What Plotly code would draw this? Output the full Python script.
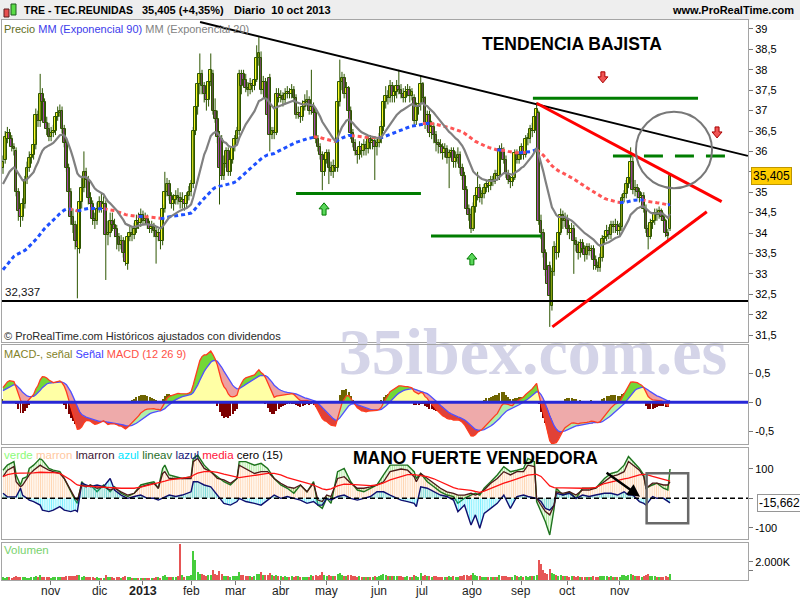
import numpy as np
import plotly.graph_objects as go

# ---------------- DATA ----------------
opens = [
35.6, 35.8, 36.3, 36.45, 36.3, 36.1, 36.0, 35.0, 34.6, 34.4,
34.7, 35.3, 35.6, 35.85, 35.9, 36.15, 36.9, 36.75, 37.4, 37.2,
36.7, 36.55, 36.35, 36.45, 36.5, 36.85, 36.95, 37.0, 36.55, 36.2,
35.6, 35.0, 34.4, 34.2, 33.8, 33.6, 34.75, 35.1, 35.5, 35.3,
34.85, 34.7, 34.35, 34.3, 34.6, 34.75, 34.6, 34.7, 33.95, 34.0,
34.3, 34.2, 34.1, 33.9, 33.7, 33.8, 33.5, 33.25, 33.9, 34.0,
33.95, 34.1, 34.3, 34.25, 34.45, 34.3, 34.35, 34.2, 34.1, 34.15,
34.05, 33.9, 34.0, 33.8, 34.6, 35.0, 35.2, 34.9, 34.7, 34.8,
34.9, 34.85, 34.75, 34.8, 34.7, 34.9, 35.0, 35.2, 36.5, 37.1,
37.65, 37.9, 37.6, 37.4, 37.25, 37.7, 37.9, 37.0, 36.8, 36.35,
36.3, 35.4, 35.7, 36.0, 35.5, 35.8, 36.1, 36.3, 36.5, 37.9,
37.9, 37.75, 37.55, 37.5, 37.65, 37.6, 37.75, 38.3, 38.3, 37.5,
37.7, 37.3, 37.8, 36.4, 36.5, 36.45, 37.4, 37.3, 37.35, 37.25,
37.4, 37.45, 37.4, 37.5, 37.3, 36.9, 36.95, 36.85, 37.1, 37.2,
37.25, 37.0, 37.1, 36.95, 36.3, 36.1, 35.9, 35.5, 35.8, 35.95,
35.6, 35.5, 35.65, 35.6, 37.2, 37.7, 37.8, 37.4, 37.55, 37.0,
36.45, 36.2, 36.0, 35.9, 36.1, 36.0, 36.15, 36.05, 36.3, 36.2,
36.25, 36.1, 36.2, 36.3, 36.6, 37.2, 37.35, 37.3, 37.6, 37.35,
37.45, 37.6, 37.5, 37.4, 37.3, 37.45, 37.5, 37.35, 37.3, 36.75,
37.1, 37.15, 37.65, 37.3, 36.65, 36.9, 36.45, 36.6, 36.4, 36.2,
36.15, 36.1, 35.95, 36.05, 35.85, 35.95, 36.0, 35.75, 35.85, 35.9,
35.6, 35.4, 35.05, 34.6, 34.45, 34.1, 34.65, 34.9, 35.1, 34.85,
34.95, 35.1, 35.2, 35.15, 35.3, 35.25, 35.45, 35.4, 36.05, 36.0,
35.8, 35.45, 35.3, 35.25, 35.35, 35.95, 35.8, 35.9, 36.1, 35.9,
36.3, 36.3, 36.55, 36.5, 36.85, 36.95, 34.3, 34.0, 33.5, 33.1,
33.2, 32.2, 33.05, 33.65, 33.5, 34.0, 34.45, 34.3, 34.35, 34.1,
34.0, 34.1, 33.8, 33.7, 33.5, 33.75, 33.6, 33.45, 33.65, 33.55,
33.6, 33.35, 33.2, 33.15, 33.4, 33.85, 33.9, 34.05, 33.95, 34.2,
34.15, 34.2, 34.05, 34.15, 34.85, 34.95, 35.2, 35.35, 35.75, 35.05,
35.1, 35.0, 34.85, 34.9, 34.6, 34.1, 33.9, 34.25, 34.3, 34.5,
34.45, 34.55, 34.4, 34.3, 34.0, 34.1]

highs = [
35.9, 36.5, 36.6, 36.55, 36.4, 36.2, 36.1, 35.1, 34.7, 34.85,
35.4, 35.75, 36.0, 36.0, 36.3, 37.05, 37.0, 37.9, 37.55, 37.3,
36.85, 36.7, 36.6, 36.65, 36.95, 37.1, 37.15, 37.1, 36.65, 36.3,
35.7, 35.1, 34.6, 34.3, 33.9, 34.85, 35.4, 36.0, 35.6, 35.4,
35.0, 34.8, 34.5, 34.75, 34.9, 35.0, 34.9, 34.8, 34.3, 34.5,
34.5, 34.35, 34.2, 34.0, 33.95, 33.9, 33.6, 34.0, 34.2, 34.15,
34.25, 34.45, 34.5, 34.6, 34.55, 34.5, 34.45, 34.3, 34.3, 34.25,
34.15, 34.1, 34.1, 34.7, 35.5, 35.35, 35.3, 35.0, 34.95, 35.05,
35.1, 35.0, 35.0, 34.9, 35.0, 35.15, 35.3, 36.6, 37.3, 37.9,
38.4, 38.0, 37.7, 37.6, 37.9, 38.4, 38.0, 37.3, 37.0, 36.5,
36.4, 35.9, 36.1, 36.1, 35.9, 36.2, 36.4, 36.6, 38.0, 38.0,
38.0, 37.9, 37.7, 37.8, 37.75, 37.9, 38.6, 38.8, 38.45, 37.85,
37.8, 37.4, 37.9, 36.6, 36.6, 37.55, 37.55, 37.5, 37.45, 37.55,
37.6, 37.55, 37.65, 37.6, 37.4, 37.1, 37.1, 37.25, 37.4, 37.5,
37.35, 38.0, 37.2, 37.05, 36.4, 36.2, 36.0, 35.9, 36.05, 36.05,
35.75, 35.8, 35.8, 37.3, 38.25, 37.95, 37.9, 37.7, 37.6, 37.1,
36.55, 36.3, 36.1, 36.25, 36.2, 36.3, 36.25, 36.4, 36.4, 36.35,
36.35, 36.3, 36.45, 36.75, 37.35, 37.6, 37.5, 37.75, 37.7, 37.6,
37.75, 38.0, 37.65, 37.55, 37.6, 37.65, 37.6, 37.55, 37.4, 37.2,
37.3, 37.85, 37.7, 37.35, 37.0, 37.0, 36.75, 36.7, 36.5, 36.3,
36.3, 36.2, 36.2, 36.15, 36.05, 36.1, 36.1, 36.0, 36.1, 36.0,
35.7, 35.5, 35.15, 34.7, 34.6, 34.75, 35.0, 35.5, 35.2, 35.05,
35.2, 35.3, 35.3, 35.4, 35.4, 35.55, 35.55, 36.15, 36.2, 36.1,
35.9, 35.55, 35.4, 35.45, 36.05, 36.05, 36.0, 36.2, 36.2, 36.4,
36.45, 36.65, 36.7, 36.95, 37.2, 37.0, 34.45, 34.1, 33.6, 33.2,
33.3, 33.15, 33.8, 33.75, 34.1, 34.6, 34.55, 34.5, 34.45, 34.2,
34.25, 34.2, 33.9, 33.8, 33.85, 33.85, 33.7, 33.75, 33.75, 33.7,
33.7, 33.45, 33.3, 33.5, 33.95, 34.05, 34.2, 34.15, 34.3, 34.3,
34.35, 34.3, 34.25, 34.95, 35.05, 35.3, 35.5, 36.1, 35.95, 35.3,
35.2, 35.1, 35.0, 35.0, 34.7, 34.2, 34.35, 34.4, 34.6, 34.6,
34.65, 34.6, 34.5, 34.35, 34.1, 35.45]

lows = [
35.45, 35.7, 36.2, 36.2, 36.0, 35.9, 34.9, 34.3, 34.15, 34.3,
34.6, 35.2, 35.5, 35.7, 35.8, 36.05, 36.6, 36.6, 37.0, 36.6,
36.4, 36.25, 36.25, 36.35, 36.4, 36.75, 36.85, 36.45, 36.1, 35.5,
34.9, 34.2, 34.0, 33.6, 32.4, 33.5, 34.6, 35.0, 35.1, 34.7,
34.55, 34.2, 34.1, 34.2, 34.5, 34.5, 34.45, 32.85, 33.7, 33.9,
34.05, 33.9, 33.6, 33.55, 33.6, 33.4, 33.2, 33.1, 33.8, 33.8,
33.85, 34.0, 34.1, 34.15, 34.2, 34.2, 34.1, 34.0, 34.0, 33.9,
33.25, 33.8, 33.6, 33.7, 34.5, 34.9, 34.8, 34.6, 34.55, 34.7,
34.7, 34.6, 34.6, 34.55, 34.6, 34.8, 34.9, 35.1, 36.4, 36.9,
37.4, 37.4, 37.2, 37.0, 37.1, 37.6, 36.9, 36.7, 36.2, 34.7,
35.3, 35.3, 35.6, 35.4, 35.4, 35.7, 36.0, 36.2, 36.4, 37.4,
37.6, 37.45, 37.35, 37.4, 37.45, 37.5, 37.7, 38.1, 37.4, 37.4,
37.2, 36.8, 36.0, 36.3, 36.3, 36.4, 37.2, 37.2, 37.1, 37.15,
37.3, 37.3, 37.3, 37.2, 36.8, 36.8, 36.7, 36.75, 37.0, 37.1,
36.9, 36.9, 36.8, 36.2, 36.0, 35.8, 35.05, 35.4, 35.7, 35.2,
35.4, 35.35, 35.5, 35.5, 37.1, 37.5, 37.3, 37.3, 36.9, 36.3,
36.1, 35.9, 35.7, 35.8, 35.85, 35.9, 35.9, 35.95, 36.05, 36.05,
35.3, 35.9, 36.1, 36.2, 36.5, 37.05, 37.15, 37.2, 37.2, 37.2,
37.3, 37.4, 37.3, 37.2, 37.2, 37.35, 37.2, 37.25, 36.65, 36.65,
36.9, 37.0, 37.2, 36.55, 36.5, 36.35, 36.3, 36.2, 36.0, 35.95,
35.95, 35.8, 35.85, 35.7, 35.1, 35.8, 35.6, 35.6, 35.7, 35.45,
35.3, 34.95, 34.5, 34.3, 34.0, 34.05, 34.5, 34.8, 34.75, 34.7,
34.85, 35.0, 35.0, 35.05, 35.15, 35.2, 35.3, 35.3, 35.9, 35.7,
35.35, 35.2, 35.1, 35.15, 35.3, 35.7, 35.7, 35.8, 35.8, 35.85,
36.15, 36.2, 36.35, 36.45, 36.8, 34.2, 33.85, 33.4, 32.95, 32.6,
31.7, 32.1, 32.95, 33.35, 33.4, 33.95, 34.1, 34.15, 33.95, 33.85,
33.9, 33.0, 33.55, 33.35, 33.4, 33.5, 33.3, 33.35, 33.45, 33.4,
33.1, 33.1, 33.05, 33.05, 33.3, 33.75, 33.8, 33.85, 33.85, 34.0,
34.0, 33.95, 33.95, 34.05, 34.75, 34.85, 35.1, 35.25, 34.95, 34.9,
34.85, 34.75, 34.7, 34.5, 34.0, 33.6, 33.85, 34.1, 34.2, 34.3,
34.35, 34.3, 34.15, 33.9, 33.8, 34.05]

closes = [
35.75, 36.35, 36.45, 36.3, 36.1, 36.05, 35.0, 34.55, 34.4, 34.7,
35.3, 35.6, 35.85, 35.9, 36.15, 36.9, 36.75, 37.4, 37.2, 36.7,
36.55, 36.35, 36.45, 36.5, 36.85, 36.95, 37.0, 36.55, 36.2, 35.6,
35.0, 34.4, 34.2, 33.8, 33.65, 34.75, 35.1, 35.5, 35.3, 34.85,
34.7, 34.35, 34.3, 34.6, 34.75, 34.6, 34.7, 33.95, 34.0, 34.3,
34.2, 34.1, 33.9, 33.7, 33.8, 33.5, 33.3, 33.9, 34.0, 33.95,
34.1, 34.3, 34.25, 34.45, 34.3, 34.35, 34.2, 34.1, 34.15, 34.05,
33.9, 34.0, 33.8, 34.6, 35.0, 35.2, 34.9, 34.7, 34.8, 34.9,
34.85, 34.75, 34.8, 34.7, 34.9, 35.0, 35.2, 36.5, 37.1, 37.65,
37.9, 37.6, 37.4, 37.25, 37.7, 38.0, 37.0, 36.8, 36.35, 35.6,
35.4, 35.7, 36.0, 35.5, 35.8, 36.1, 36.3, 36.5, 37.9, 37.6,
37.75, 37.55, 37.5, 37.65, 37.6, 37.75, 38.3, 38.4, 37.5, 37.7,
37.3, 36.9, 36.4, 36.5, 36.45, 37.4, 37.3, 37.35, 37.25, 37.4,
37.45, 37.4, 37.5, 37.3, 36.9, 36.95, 36.85, 37.1, 37.2, 37.25,
37.0, 37.1, 36.95, 36.3, 36.1, 35.9, 35.5, 35.8, 35.95, 35.6,
35.5, 35.65, 35.6, 37.2, 37.7, 37.8, 37.4, 37.55, 37.0, 36.45,
36.2, 36.0, 35.9, 36.1, 36.0, 36.15, 36.05, 36.3, 36.2, 36.25,
36.1, 36.2, 36.3, 36.6, 37.2, 37.35, 37.3, 37.6, 37.35, 37.45,
37.6, 37.5, 37.4, 37.3, 37.45, 37.5, 37.35, 37.45, 36.75, 37.1,
37.15, 37.65, 37.3, 36.65, 36.9, 36.45, 36.6, 36.4, 36.2, 36.15,
36.1, 35.95, 36.05, 35.85, 35.95, 36.0, 35.75, 35.85, 35.9, 35.6,
35.4, 35.05, 34.6, 34.45, 34.1, 34.65, 34.9, 35.1, 34.85, 34.95,
35.1, 35.2, 35.15, 35.3, 35.25, 35.45, 35.4, 36.05, 36.0, 35.8,
35.45, 35.3, 35.25, 35.35, 35.95, 35.8, 35.9, 36.1, 35.9, 36.3,
36.3, 36.55, 36.5, 36.85, 37.05, 34.3, 34.0, 33.5, 33.1, 32.75,
32.45, 33.05, 33.65, 33.5, 34.0, 34.45, 34.3, 34.35, 34.1, 34.0,
34.1, 33.8, 33.7, 33.5, 33.75, 33.6, 33.45, 33.65, 33.55, 33.6,
33.35, 33.2, 33.15, 33.4, 33.85, 33.9, 34.05, 33.95, 34.2, 34.15,
34.2, 34.05, 34.15, 34.85, 34.95, 35.2, 35.35, 35.75, 35.05, 35.1,
35.0, 34.85, 34.9, 34.6, 34.1, 33.9, 34.25, 34.3, 34.5, 34.45,
34.55, 34.4, 34.3, 34.0, 33.93, 35.405]

volumes_k = [
300, 260, 280, 350, 240, 300, 420, 380, 330, 290,
310, 270, 250, 300, 330, 480, 380, 520, 350, 330,
300, 280, 260, 290, 340, 310, 280, 330, 360, 420,
450, 480, 390, 420, 600, 520, 380, 410, 330, 310,
280, 300, 260, 290, 270, 250, 240, 520, 330, 300,
280, 260, 300, 330, 270, 350, 420, 380, 300, 260,
250, 240, 230, 260, 240, 220, 250, 230, 210, 240,
300, 280, 260, 480, 520, 380, 350, 300, 290, 310,
420, 3900, 600, 380, 450, 400, 520, 3150, 2200, 900,
700, 650, 520, 480, 600, 550, 1100, 700, 600, 1000,
650, 480, 420, 450, 380, 400, 420, 450, 880, 600,
500, 480, 420, 400, 380, 420, 700, 650, 900, 500,
550, 600, 800, 500, 420, 600, 450, 400, 380, 420,
380, 350, 400, 380, 450, 420, 380, 360, 340, 380,
360, 500, 400, 550, 480, 600, 900, 500, 450, 520,
480, 420, 400, 700, 800, 550, 480, 450, 500, 520,
450, 400, 380, 420, 360, 340, 350, 380, 360, 340,
450, 380, 420, 500, 700, 520, 450, 480, 420, 400,
450, 420, 400, 380, 360, 400, 350, 380, 550, 420,
380, 750, 450, 520, 400, 450, 380, 400, 420, 380,
360, 380, 350, 380, 400, 350, 420, 380, 360, 420,
480, 520, 550, 480, 600, 800, 500, 450, 420, 380,
360, 340, 350, 330, 320, 350, 330, 520, 450, 400,
420, 380, 360, 340, 550, 400, 380, 420, 350, 450,
380, 420, 400, 450, 500, 2200, 1700, 1100, 800, 700,
1200, 750, 650, 500, 480, 520, 450, 400, 420, 380,
400, 450, 380, 420, 360, 340, 380, 350, 340, 360,
420, 380, 360, 400, 450, 420, 400, 380, 420, 360,
350, 380, 340, 550, 500, 480, 520, 700, 600, 450,
420, 400, 380, 450, 600, 650, 480, 420, 400, 380,
360, 380, 350, 420, 380, 650]

# "mano fuerte" indicator, read at sampled candles
ind_x = [0, 2, 5, 6, 8, 9, 11, 12, 14, 17, 18, 21, 23, 26, 28, 31, 33, 34, 36, 38,
         40, 43, 46, 49, 51, 54, 57, 60, 63, 66, 69, 71, 73, 74, 76, 79, 82, 86, 87, 89,
         92, 95, 98, 101, 104, 107, 108, 111, 115, 118, 121, 124, 127, 130, 133, 136, 139, 142, 144, 146,
         148, 150, 153, 156, 159, 162, 165, 168, 171, 174, 177, 182, 185, 188, 189, 191, 194, 197, 200, 203,
         206, 208, 211, 214, 216, 218, 220, 223, 226, 229, 232, 235, 238, 240, 243, 244, 246, 248, 250, 252,
         253, 256, 259, 262, 265, 268, 271, 275, 278, 281, 284, 286, 288, 291, 293, 294, 297, 299, 302, 304,
         305]
lineav = [95, 112, 124, 79, 45, 67, 73, 101, 112, 135, 129, 101, 95, 90, 67, 22, -6, -17, 56, 39,
          45, 22, 45, 22, 39, 17, 6, 17, 45, 51, 56, 34, 101, 112, 79, 73, 67, 73, 135, 146,
          112, 90, 73, 56, 45, 67, 124, 124, 112, 118, 101, 67, 45, 34, 17, 45, 22, 56, -23, -34,
          0, -17, 90, 101, 56, 28, 22, 34, 45, 79, 112, 112, 112, 90, 67, 84, 56, 39, 22, 11,
          6, -17, 0, 11, 17, 11, 34, 56, 79, 107, 90, 95, 101, 135, 124, -11, -45, -79, -124, -34,
          34, 11, 22, 0, 34, 34, 34, 67, 84, 90, 112, 141, 124, 101, 79, 34, 45, 51, 34, 28,
          99]
lmarron = [73, 95, 107, 56, 39, 45, 67, 79, 95, 112, 107, 95, 90, 84, 67, 28, 0, -6, 45, 39,
           45, 34, 39, 28, 34, 22, 11, 17, 39, 45, 51, 34, 84, 90, 67, 67, 67, 67, 124, 135,
           101, 90, 67, 62, 51, 67, 112, 101, 84, 90, 90, 67, 51, 39, 34, 45, 22, 51, -6, -11,
           11, 6, 67, 73, 51, 34, 34, 39, 45, 56, 90, 99, 95, 73, 56, 84, 67, 51, 34, 22,
           17, 11, 11, 17, 11, 17, 28, 51, 67, 90, 79, 90, 90, 112, 107, 0, -23, -45, -56, -23,
           22, 17, 22, 11, 28, 28, 34, 56, 73, 79, 90, 124, 112, 95, 73, 34, 51, 51, 45, 45,
           56]
lazul = [17, 5, 5, 5, 34, 10, 0, -6, -11, -23, -40, -45, -40, -28, -40, -45, -40, -45, 51, 45,
         39, 45, 39, 67, 28, 11, 0, 6, 11, 0, 0, -6, 0, 5, 11, 6, 11, 22, 56, 56,
         45, 39, 11, -17, -23, -11, 0, -11, -17, -23, -6, 11, 0, 6, 0, -6, -17, -11, -23, -23,
         0, -6, 6, 11, 0, -6, 0, 6, 22, 22, 11, -6, -11, -17, -28, 39, 34, 22, 11, 6,
         -6, -45, -23, -90, -56, -101, -51, -34, -17, 11, -34, 6, 11, 6, 0, 0, -11, -34, -40, -23,
         17, 11, 17, 0, 11, 6, 11, 17, 17, 11, 22, 11, 11, -11, -17, -23, 6, 0, 0, -11,
         -15.662]
media = [73, 80, 84, 85, 85, 85, 85, 85, 86, 88, 88, 88, 87, 84, 76, 62, 50, 45, 42, 41,
         40, 39, 38, 36, 35, 34, 34, 34, 38, 43, 48, 51, 55, 58, 62, 66, 68, 72, 78, 85,
         90, 91, 88, 82, 76, 71, 70, 73, 77, 80, 84, 84, 79, 70, 63, 57, 51, 45, 38, 32,
         29, 32, 42, 48, 47, 45, 43, 43, 45, 52, 62, 72, 80, 80, 79, 78, 73, 66, 56, 44,
         36, 32, 30, 27, 23, 20, 24, 33, 44, 51, 58, 66, 73, 78, 81, 81, 74, 58, 42, 36,
         35, 35, 34, 34, 34, 34, 37, 50, 56, 62, 66, 68, 73, 79, 81, 81, 74, 70, 66, 62,
         58]

# axis tick labels
month_pos = [21.5, 44, 64, 86, 106.5, 127, 148, 171.5, 191.5, 214.5, 237, 258, 282]
month_lbl = ["nov", "dic", "<b>2013</b>", "feb", "mar", "abr", "may", "jun", "jul", "ago", "sep", "oct", "nov"]
price_ticks = [31.5, 32, 32.5, 33, 33.5, 34, 34.5, 35, 35.5, 36, 36.5, 37, 37.5, 38, 38.5, 39]
price_hidden = [35.5]          # covered by the last-price badge in the reference
macd_ticks = [-0.5, 0, 0.5]
ind_ticks = [-100, 0, 100]
ind_hidden = [0]               # covered by the last-value badge
vol_ticks = [1000, 2000]
vol_tick_lbl = ["", "2.000K"]

# indicator seeds (values of the averages at the first visible candle)
ema90_start = 33.1
ema20_start = 35.2
ema12_start = 35.45
ema26_start = 35.2
signal_start = 0.2
support_level = 32.337
last_price = 35.405

assert len(opens) == len(highs) == len(lows) == len(closes) == len(volumes_k), \
    (len(opens), len(highs), len(lows), len(closes), len(volumes_k))
assert len(ind_x) == len(lineav) == len(lmarron) == len(lazul) == len(media), \
    (len(ind_x), len(lineav), len(lmarron), len(lazul), len(media))

# ---------------- helpers ----------------
n = len(closes)
idx = np.arange(n)
O = np.array(opens); H = np.array(highs); L = np.array(lows); C = np.array(closes)


def ema(values, period, start):
    a = 2.0 / (period + 1)
    out = [start]
    for v in values[1:]:
        out.append(out[-1] + a * (v - out[-1]))
    return np.array(out)


ema90 = ema(C, 90, ema90_start)
ema20 = ema(C, 20, ema20_start)
macd = ema(C, 12, ema12_start) - ema(C, 26, ema26_start)
sig = ema(macd, 9, signal_start)
hist = macd - sig


def fmt(v, hidden=()):
    if v in hidden:
        return ""
    return ("%g" % v).replace(".", ",")


PLOT_L, PLOT_R, PLOT_T, PLOT_B = 2, 748, 20, 580
PX_PER_IDX = 2.187
XR = [(PLOT_L - 3) / PX_PER_IDX, (PLOT_R - 3) / PX_PER_IDX]
MACD_RANGE = [-0.714, 0.981]


def xp(px):
    return (px - PLOT_L) / (PLOT_R - PLOT_L)


def yp(py):
    return (PLOT_B - py) / (PLOT_B - PLOT_T)


FRAME = "rgb(165,165,165)"
FONT = "Liberation Sans, Arial, sans-serif"
DKGREEN = "rgb(45,85,0)"

fig = go.Figure()

# ---------------- main price panel ----------------
wx, wy = [], []
for i in range(n):
    wx += [i, i, None]
    wy += [min(L[i], O[i], C[i]), max(H[i], O[i], C[i]), None]
fig.add_trace(go.Scatter(x=wx, y=wy, mode="lines", line=dict(color=DKGREEN, width=1),
                         hoverinfo="skip", xaxis="x", yaxis="y"))
up = C >= O
body_base = np.minimum(O, C)
body_h = np.maximum(np.abs(C - O), 0.03)
fig.add_trace(go.Bar(x=idx, y=body_h, base=body_base, width=1.25,
                     marker=dict(color=["rgb(255,255,40)" if u else "rgb(165,70,170)" for u in up],
                                 line=dict(color=DKGREEN, width=1)),
                     xaxis="x", yaxis="y"))

# EMA 90 coloured by price position
above = C >= ema90
blue_y, red_y = [], []
for i in range(n):
    nb = above[i] or (i > 0 and above[i - 1]) or (i < n - 1 and above[i + 1])
    nr = (not above[i]) or (i > 0 and not above[i - 1]) or (i < n - 1 and not above[i + 1])
    blue_y.append(ema90[i] if nb else None)
    red_y.append(ema90[i] if nr else None)
fig.add_trace(go.Scatter(x=idx, y=red_y, mode="lines", connectgaps=False,
                         line=dict(color="rgb(255,85,85)", width=3, dash="4px,3px"), xaxis="x", yaxis="y"))
fig.add_trace(go.Scatter(x=idx, y=blue_y, mode="lines", connectgaps=False,
                         line=dict(color="rgb(30,80,255)", width=3, dash="4px,3px"), xaxis="x", yaxis="y"))
fig.add_trace(go.Scatter(x=idx, y=ema20, mode="lines",
                         line=dict(color="rgb(128,128,128)", width=2.2), xaxis="x", yaxis="y"))

# ---------------- watermark (behind the MACD panel drawing and frames) ----------------
wm_x = (533 - 3) / PX_PER_IDX
wm_y = MACD_RANGE[0] + (444 - 357) / (444 - 345) * (MACD_RANGE[1] - MACD_RANGE[0])
fig.add_trace(go.Scatter(x=[wm_x], y=[wm_y], mode="text", text=["35ibex.com.es"],
                         textposition="middle center", cliponaxis=False, hoverinfo="skip",
                         textfont=dict(family="Liberation Serif, Times New Roman, serif", size=66,
                                       color="rgb(212,212,232)", weight="bold"),
                         xaxis="x2", yaxis="y2"))

# ---------------- MACD panel ----------------
yellow_top = np.maximum(0, np.minimum(macd, sig))
pink_bot = np.minimum(0, np.maximum(macd, sig))
fig.add_trace(go.Scatter(x=idx, y=yellow_top, mode="lines", line=dict(width=0), fill="tozeroy",
                         fillcolor="rgb(255,255,165)", xaxis="x2", yaxis="y2"))
fig.add_trace(go.Scatter(x=idx, y=pink_bot, mode="lines", line=dict(width=0), fill="tozeroy",
                         fillcolor="rgb(238,170,170)", xaxis="x2", yaxis="y2"))
bands = [
    (np.maximum(sig, 0), np.maximum(np.maximum(macd, sig), 0), "rgb(115,215,55)"),
    (np.minimum(sig, 0), np.minimum(np.maximum(macd, sig), 0), "rgb(175,238,170)"),
    (np.maximum(sig, 0), np.maximum(np.minimum(macd, sig), 0), "rgb(238,160,160)"),
    (np.minimum(sig, 0), np.minimum(np.minimum(macd, sig), 0), "rgb(225,65,55)"),
]
for base, top, col in bands:
    fig.add_trace(go.Scatter(x=idx, y=base, mode="lines", line=dict(width=0), xaxis="x2", yaxis="y2"))
    fig.add_trace(go.Scatter(x=idx, y=top, mode="lines", line=dict(width=0), fill="tonexty",
                             fillcolor=col, xaxis="x2", yaxis="y2"))
fig.add_trace(go.Bar(x=idx, y=hist, width=0.45,
                     marker=dict(color=["rgb(110,100,0)" if h >= 0 else "rgb(125,0,0)" for h in hist],
                                 line=dict(width=0)),
                     xaxis="x2", yaxis="y2"))
fig.add_trace(go.Scatter(x=idx, y=sig, mode="lines", line=dict(color="rgb(80,80,255)", width=1.3),
                         xaxis="x2", yaxis="y2"))
fig.add_trace(go.Scatter(x=idx, y=macd, mode="lines", line=dict(color="rgb(255,60,30)", width=1.3),
                         xaxis="x2", yaxis="y2"))

# ---------------- "mano fuerte" indicator panel ----------------
fig.add_trace(go.Scatter(x=ind_x, y=lmarron, mode="lines", line=dict(width=0, color="rgba(0,0,0,0)"),
                         fill="tozeroy", fillcolor="rgba(0,0,0,0)",
                         fillpattern=dict(shape="|", fgcolor="rgb(255,175,105)", size=2.2, solidity=0.5),
                         xaxis="x3", yaxis="y3"))
fig.add_trace(go.Scatter(x=ind_x, y=lineav, mode="lines", line=dict(color="rgb(30,115,30)", width=1.4),
                         fill="tonexty", fillcolor="rgba(0,0,0,0)",
                         fillpattern=dict(shape="|", fgcolor="rgb(90,215,60)", size=2.2, solidity=0.5),
                         xaxis="x3", yaxis="y3"))
fig.add_trace(go.Scatter(x=ind_x, y=lazul, mode="lines", line=dict(color="rgb(15,15,110)", width=1.4),
                         fill="tozeroy", fillcolor="rgba(0,0,0,0)",
                         fillpattern=dict(shape="|", fgcolor="rgb(0,225,255)", size=2.2, solidity=0.55),
                         xaxis="x3", yaxis="y3"))
fig.add_trace(go.Scatter(x=ind_x, y=lmarron, mode="lines", line=dict(color="rgb(75,25,25)", width=1.3),
                         xaxis="x3", yaxis="y3"))
fig.add_trace(go.Scatter(x=ind_x, y=media, mode="lines", line=dict(color="rgb(255,20,20)", width=1.3),
                         xaxis="x3", yaxis="y3"))

# ---------------- volume panel ----------------
fig.add_trace(go.Bar(x=idx, y=volumes_k, width=0.55,
                     marker=dict(color=["rgb(70,205,60)" if u else "rgb(230,85,85)" for u in up],
                                 line=dict(width=0)),
                     xaxis="x4", yaxis="y4"))

# ---------------- axes ----------------
xcommon = dict(range=XR, showgrid=False, zeroline=False, showline=True, mirror=True,
               linecolor=FRAME, linewidth=1, showticklabels=False, ticks="", fixedrange=True)
ycommon = dict(showgrid=False, zeroline=False, showline=True, mirror=True, linecolor=FRAME,
               linewidth=1, side="right", ticks="outside", ticklen=4, tickcolor="rgb(120,120,120)",
               tickfont=dict(family=FONT, size=11, color="black"), fixedrange=True)

fig.update_layout(
    width=800, height=600,
    margin=dict(l=PLOT_L, r=800 - PLOT_R, t=PLOT_T, b=600 - PLOT_B, autoexpand=False),
    paper_bgcolor="white", plot_bgcolor="rgba(0,0,0,0)",
    showlegend=False, barmode="overlay", bargap=0,
    xaxis=dict(xcommon, anchor="y", domain=[0, 1]),
    xaxis2=dict(xcommon, anchor="y2", domain=[0, 1], matches="x"),
    xaxis3=dict(xcommon, anchor="y3", domain=[0, 1], matches="x"),
    xaxis4=dict(xcommon, anchor="y4", domain=[0, 1], matches="x", showticklabels=False,
                ticks="outside", ticklen=4, tickcolor="rgb(120,120,120)", tickvals=month_pos),
    yaxis=dict(ycommon, anchor="x", domain=[yp(342), 1.0], range=[31.33, 39.22],
               tickvals=price_ticks, ticktext=[fmt(v, price_hidden) for v in price_ticks]),
    yaxis2=dict(ycommon, anchor="x2", domain=[yp(444), yp(345)], range=MACD_RANGE,
                tickvals=macd_ticks, ticktext=[fmt(v) for v in macd_ticks]),
    yaxis3=dict(ycommon, anchor="x3", domain=[yp(539), yp(448)], range=[-137.5, 170],
                tickvals=ind_ticks, ticktext=[fmt(v, ind_hidden) for v in ind_ticks]),
    yaxis4=dict(ycommon, anchor="x4", domain=[0, yp(543)], range=[0, 4050],
                tickvals=vol_ticks, ticktext=vol_tick_lbl),
)

# ---------------- drawings ----------------
shapes = []
shapes.append(dict(type="rect", xref="paper", yref="paper", x0=xp(-5), x1=xp(805), y0=yp(20), y1=yp(0),
                   fillcolor="rgb(238,238,238)", line=dict(width=0), layer="below"))
shapes.append(dict(type="rect", xref="paper", yref="paper", x0=xp(4), x1=xp(9), y0=yp(17), y1=yp(9),
                   fillcolor="rgb(230,80,80)", line=dict(color="rgb(90,30,30)", width=1)))
shapes.append(dict(type="rect", xref="paper", yref="paper", x0=xp(11), x1=xp(16), y0=yp(15), y1=yp(4),
                   fillcolor="rgb(90,220,70)", line=dict(color="rgb(30,90,30)", width=1)))
shapes.append(dict(type="line", xref="paper", yref="y", x0=0, x1=1, y0=support_level, y1=support_level,
                   line=dict(color="black", width=2)))
shapes.append(dict(type="line", xref="x", yref="y", x0=90.1, y0=39.17, x1=340.6, y1=35.89,
                   line=dict(color="black", width=2)))
shapes.append(dict(type="line", xref="x", yref="y", x0=134, x1=191.1, y0=34.97, y1=34.97,
                   line=dict(color="rgb(0,125,0)", width=3)))
shapes.append(dict(type="line", xref="x", yref="y", x0=195.7, x1=246.5, y0=33.93, y1=33.93,
                   line=dict(color="rgb(0,125,0)", width=3)))
shapes.append(dict(type="line", xref="x", yref="y", x0=242.3, x1=317.8, y0=37.30, y1=37.30,
                   line=dict(color="rgb(0,125,0)", width=3)))
shapes.append(dict(type="line", xref="x", yref="y", x0=278.9, x1=332.9, y0=35.89, y1=35.89,
                   line=dict(color="rgb(0,125,0)", width=3, dash="19px,12px")))
shapes.append(dict(type="line", xref="x", yref="y", x0=244.0, y0=37.18, x1=328.6, y1=34.77,
                   line=dict(color="rgb(255,0,0)", width=3)))
shapes.append(dict(type="line", xref="x", yref="y", x0=251.2, y0=31.70, x1=321.8, y1=34.52,
                   line=dict(color="rgb(255,0,0)", width=3)))
shapes.append(dict(type="circle", xref="x", yref="y", x0=289.4, x1=324.2, y0=35.10, y1=36.97,
                   line=dict(color="rgb(120,120,120)", width=2)))


def block_arrow(cx, ytip, ybase, fill, edge):
    d = 1 if ytip > ybase else -1
    hw, sw = 5 / PX_PER_IDX, 2 / PX_PER_IDX
    hb = ytip - d * 6 / 40.8
    pts = [(cx, ytip), (cx + hw, hb), (cx + sw, hb), (cx + sw, ybase), (cx - sw, ybase),
           (cx - sw, hb), (cx - hw, hb)]
    path = "M " + " L ".join("%f,%f" % p for p in pts) + " Z"
    return dict(type="path", xref="x", yref="y", path=path, fillcolor=fill, line=dict(color=edge, width=1))


shapes.append(block_arrow(146.8, 34.74, 34.44, "rgb(90,215,90)", "rgb(0,120,0)"))
shapes.append(block_arrow(214.4, 33.51, 33.22, "rgb(90,215,90)", "rgb(0,120,0)"))
shapes.append(block_arrow(274.3, 37.68, 37.95, "rgb(240,85,85)", "rgb(170,0,0)"))
shapes.append(block_arrow(326.5, 36.33, 36.60, "rgb(240,85,85)", "rgb(170,0,0)"))
shapes.append(dict(type="line", xref="paper", yref="y2", x0=0, x1=1, y0=0, y1=0,
                   line=dict(color="rgb(40,40,215)", width=3)))
shapes.append(dict(type="line", xref="paper", yref="y3", x0=0, x1=1, y0=0, y1=0,
                   line=dict(color="black", width=1.5, dash="5px,3px")))
shapes.append(dict(type="rect", xref="x3", yref="y3", x0=294.3, x1=313.3, y0=-84.5, y1=84.5,
                   line=dict(color="rgb(105,105,105)", width=2.5)))
fig.update_layout(shapes=shapes)

# ---------------- texts ----------------
ann = []


def txt(text, px, py, size=11, color="black", xanchor="left", family=FONT):
    ann.append(dict(text=text, x=xp(px), y=yp(py), xref="paper", yref="paper", showarrow=False,
                    xanchor=xanchor, yanchor="middle", font=dict(family=family, size=size, color=color)))


txt("<b>TRE - TEC.REUNIDAS</b>", 22, 10, size=10.5)
txt("<b>35,405 (+4,35%)</b>", 140, 10, size=11)
txt("<b>Diario&nbsp;&nbsp;10 oct 2013</b>", 232, 10, size=11)
txt("<b>www.ProRealTime.com</b>", 796, 10, size=11, xanchor="right")
txt("<span style='color:rgb(95,110,30)'>Precio</span> <span style='color:rgb(60,60,235)'>MM (Exponencial 90)</span>"
    " <span style='color:rgb(130,130,130)'>MM (Exponencial 20)</span>", 2, 29, size=11)
txt("<b>TENDENCIA BAJISTA</b>", 572, 44, size=17.5, xanchor="center")
txt("32,337", 3, 292, size=11.5, color="rgb(20,20,20)")
txt("© ProRealTime.com Históricos ajustados con dividendos", 2, 336, size=11, color="rgb(40,40,40)")
txt("<span style='color:rgb(130,130,40)'>MACD-, señal</span> <span style='color:rgb(60,60,255)'>Señal</span>"
    " <span style='color:rgb(255,80,70)'>MACD (12 26 9)</span>", 2, 354, size=11)
txt("<span style='color:rgb(140,250,120)'>verde</span> <span style='color:rgb(255,200,160)'>marron</span>"
    " <span style='color:rgb(60,20,50)'>lmarron</span> <span style='color:rgb(0,230,255)'>azul</span>"
    " <span style='color:rgb(40,110,40)'>lineav</span> <span style='color:rgb(20,20,120)'>lazul</span>"
    " <span style='color:rgb(255,20,60)'>media</span> <span style='color:black'>cero (15)</span>",
    2, 455, size=11.5)
txt("<b>MANO FUERTE VENDEDORA</b>", 475, 458, size=17.5, xanchor="center")
txt("Volumen", 2, 550, size=11.5, color="rgb(120,210,110)")

# month labels under the bottom axis
for pos, lbl in zip(month_pos, month_lbl):
    ann.append(dict(text=lbl, x=pos, y=yp(591), xref="x4", yref="paper", showarrow=False,
                    xanchor="center", yanchor="middle",
                    font=dict(family=FONT, size=12.5 if "2013" in lbl else 12, color="rgb(30,30,30)")))

ann.append(dict(text="35,405", x=xp(751), y=last_price, xref="paper", yref="y", showarrow=False,
                xanchor="left", yanchor="middle", bgcolor="rgb(255,205,0)", bordercolor="rgb(190,150,0)",
                borderwidth=1, borderpad=1, font=dict(family=FONT, size=12, color="black")))
ann.append(dict(text="-15,662", x=xp(757), y=lazul[-1], xref="paper", yref="y3", showarrow=False,
                xanchor="left", yanchor="middle", bgcolor="white", bordercolor="rgb(150,150,150)",
                borderwidth=1, borderpad=1, font=dict(family=FONT, size=12, color="black")))
ann.append(dict(text="", x=291.3, y=5.4, ax=275.3, ay=90, xref="x3", yref="y3", axref="x3", ayref="y3",
                showarrow=True, arrowhead=2, arrowsize=1, arrowwidth=2.5, arrowcolor="black"))
fig.update_layout(annotations=ann)

fig.write_html("out.html", config={"displayModeBar": False},
               post_script="document.body.style.margin='0px';")
